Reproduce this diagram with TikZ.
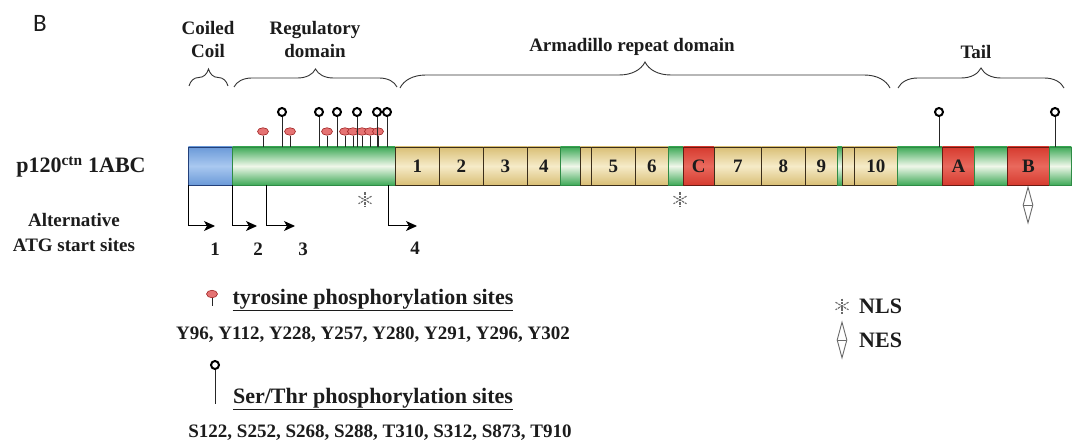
\documentclass[tikz,border=0pt]{standalone}
\usepackage{fontspec}
\setmainfont{Liberation Serif}
\newfontfamily\sansB{Carlito}
\usetikzlibrary{shapes.geometric,decorations.pathreplacing,arrows.meta,calc}
\newcommand\fsz[2]{\fontsize{#1}{#2}\selectfont}
\definecolor{txt}{HTML}{1C1C1C}
\definecolor{blueD}{HTML}{23407A}
\definecolor{blueE}{HTML}{6B9AD8}
\definecolor{blueM}{HTML}{A9C8F0}
\definecolor{greenD}{HTML}{2E8B45}
\definecolor{greenE}{HTML}{3FAA58}
\definecolor{greenM}{HTML}{F0F7EA}
\definecolor{tanD}{HTML}{3B2E1A}
\definecolor{tanE}{HTML}{D9BF76}
\definecolor{tanM}{HTML}{F6EBC8}
\definecolor{redD}{HTML}{6B1A12}
\definecolor{redE}{HTML}{D63B2F}
\definecolor{redM}{HTML}{E9695D}
\definecolor{pinF}{HTML}{E57373}
\definecolor{pinD}{HTML}{A02323}
\definecolor{astc}{HTML}{6A6A6A}
\tikzset{
  seg/.style={draw, line width=0.7pt, inner sep=0pt, minimum height=38pt, anchor=west,
    font=\fsz{19}{23}\bfseries, text=txt},
  blueseg/.style={seg, draw=blueD, top color=blueE, bottom color=blueE, middle color=blueM},
  greenseg/.style={seg, draw=greenD, top color=greenE, bottom color=greenE, middle color=greenM},
  tanseg/.style={seg, draw=tanD, top color=tanE, bottom color=tanE, middle color=tanM},
  redseg/.style={seg, draw=redD, top color=redE, bottom color=redE, middle color=redM},
  lbl/.style={font=\fsz{19}{23}\bfseries, text=txt, align=center, inner sep=0pt},
  leg/.style={font=\fsz{22}{26}\bfseries, text=txt, inner sep=0pt},
  legval/.style={font=\fsz{19}{23}\bfseries, text=txt, inner sep=0pt},
  serpin/.style={circle, draw=black, line width=2pt, minimum size=8pt, inner sep=0pt},
  typin/.style={ellipse, draw=pinD, fill=pinF, line width=0.6pt, minimum width=11pt, minimum height=7.5pt, inner sep=0pt},
  stem/.style={draw=black!85, line width=0.8pt},
  startarrow/.style={draw=black, line width=1pt, -{Stealth[length=11pt,width=10pt,inset=3pt]}},
  dombrace/.style={draw=black!80, line width=0.9pt, decorate},
  nesmark/.style={diamond, draw=astc, line width=0.9pt, inner sep=0pt, minimum width=10pt, minimum height=36pt,
    path picture={\draw[astc, line width=0.9pt] (path picture bounding box.west) -- (path picture bounding box.east);}},
  nlsmark/.style={minimum size=17pt, inner sep=0pt,
    path picture={\foreach \a in {90,30,150}{\draw[astc, line width=1.1pt, dash pattern=on 2.4pt off 0.9pt]
      ($(path picture bounding box.center)+(\a:7.5pt)$) -- ($(path picture bounding box.center)+(\a+180:7.5pt)$);}}},
}
\begin{document}
\begin{tikzpicture}[x=1pt,y=-1pt]
\useasboundingbox (0,0) rectangle (1073,446);
\fill[white] (0,0) rectangle (1073,446);

% panel letter
\node[font=\sansB\fsz{25}{29}, text=txt] (lblB) at (40,23) {B};

% domain labels
\node[lbl] (tcc) at (208,40) {Coiled\\Coil};
\node[lbl] (treg) at (315,40) {Regulatory\\domain};
\node[lbl] (tarm) at (632,47) {Armadillo repeat domain};
\node[lbl] (ttail) at (976,52) {Tail};

% braces
\draw[dombrace, decoration={brace, amplitude=17pt}] (189,86) -- (228,86);
\draw[dombrace, decoration={brace, amplitude=18pt}] (234,87) -- (397,87);
\draw[dombrace, decoration={brace, amplitude=26pt}] (400,88) -- (890,88);
\draw[dombrace, decoration={brace, amplitude=20pt}] (898,88) -- (1064,88);

% protein label
\node[font=\fsz{22}{26}\bfseries, text=txt, inner sep=0pt] (prot) at (81,167) {p120\textsuperscript{ctn} 1ABC};

% bar
\node[blueseg, minimum width=44pt] (cc) at (188,166) {};
\node[greenseg, minimum width=163pt] (reg) at (232,166) {};
\node[tanseg, minimum width=44pt] (r1) at (395,166) {1};
\node[tanseg, minimum width=44pt] (r2) at (439,166) {2};
\node[tanseg, minimum width=44pt] (r3) at (483,166) {3};
\node[tanseg, minimum width=33pt] (r4) at (527,166) {4};
\node[greenseg, minimum width=20pt] (g1) at (560,166) {};
\node[tanseg, minimum width=11pt] (s1) at (580,166) {};
\node[tanseg, minimum width=44pt] (r5) at (591,166) {5};
\node[tanseg, minimum width=33pt] (r6) at (635,166) {6};
\node[greenseg, minimum width=15pt] (g2) at (668,166) {};
\node[redseg, minimum width=31pt] (rc) at (683,166) {C};
\node[tanseg, minimum width=47pt] (r7) at (714,166) {7};
\node[tanseg, minimum width=44pt] (r8) at (761,166) {8};
\node[tanseg, minimum width=32pt] (r9) at (805,166) {9};
\node[greenseg, minimum width=5pt] (g3) at (837,166) {};
\node[tanseg, minimum width=12pt] (s2) at (842,166) {};
\node[tanseg, minimum width=43pt] (r10) at (854,166) {10};
\node[greenseg, minimum width=45pt] (g4) at (897,166) {};
\node[redseg, minimum width=32pt] (ra) at (942,166) {A};
\node[greenseg, minimum width=33pt] (g5) at (974,166) {};
\node[redseg, minimum width=42pt] (rb) at (1007,166) {B};
\node[greenseg, minimum width=22pt] (g6) at (1049,166) {};

% tyrosine phosphorylation sites
\foreach \x [count=\i] in {263,290,327,345,353,362,370,378}{
  \node[typin] (y\i) at (\x,131.5) {};
  \draw[stem] (y\i.south) -- (y\i.south |- reg.north);
}
% Ser/Thr phosphorylation sites
\foreach \x [count=\i] in {282,319,337,357,377,387}{
  \node[serpin] (p\i) at (\x,112) {};
  \draw[stem] (p\i.south) -- (p\i.south |- reg.north);
}
\node[serpin] (p7) at (939,112) {};
\draw[stem] (p7.south) -- (p7.south |- g4.north);
\node[serpin] (p8) at (1055,112) {};
\draw[stem] (p8.south) -- (p8.south |- g6.north);

% NLS and NES marks on the bar
\node[nlsmark] (nls1) at (365,200) {};
\node[nlsmark] (nls2) at (680,200) {};
\node[nesmark] (nes1) at (1028,205) {};

% alternative start sites
\node[lbl, font=\fsz{19}{25}\bfseries] (talt) at (74,233) {Alternative\\ATG start sites};
\coordinate (st1) at (cc.south west);
\coordinate (st2) at (reg.south west);
\coordinate (st3) at (266,185);
\coordinate (st4) at (388,185);
\coordinate (e1) at (215,226);
\coordinate (e2) at (257,226);
\coordinate (e3) at (295,226);
\coordinate (e4) at (417,226);
\draw[startarrow] (st1) |- (e1);
\draw[startarrow] (st2) |- (e2);
\draw[startarrow] (st3) |- (e3);
\draw[startarrow] (st4) |- (e4);
\node[lbl] (n1) at (215,249) {1};
\node[lbl] (n2) at (258,249) {2};
\node[lbl] (n3) at (303,249) {3};
\node[lbl] (n4) at (415,248) {4};

% legend: tyrosine
\node[typin] (ly) at (212,294) {};
\coordinate (lyb) at (212,306);
\draw[stem] (ly.south) -- (lyb);
\node[leg] (ty) at (373,300) {\underline{tyrosine phosphorylation sites}};
\node[legval] (tyv) at (373,335) {Y96, Y112, Y228, Y257, Y280, Y291, Y296, Y302};
% legend: Ser/Thr
\node[serpin] (ls) at (215,365) {};
\coordinate (lsb) at (215,404);
\draw[stem] (ls.south) -- (lsb);
\node[leg] (st) at (373,399) {\underline{Ser/Thr phosphorylation sites}};
\node[legval] (stv) at (380,433) {S122, S252, S268, S288, T310, S312, S873, T910};

% legend: NLS / NES
\node[nlsmark] (lnls) at (842,306) {};
\node[leg, anchor=west] (tnls) at (859,306) {NLS};
\node[nesmark] (lnes) at (842,340) {};
\node[leg, anchor=west] (tnes) at (859,340) {NES};
\end{tikzpicture}
\end{document}
